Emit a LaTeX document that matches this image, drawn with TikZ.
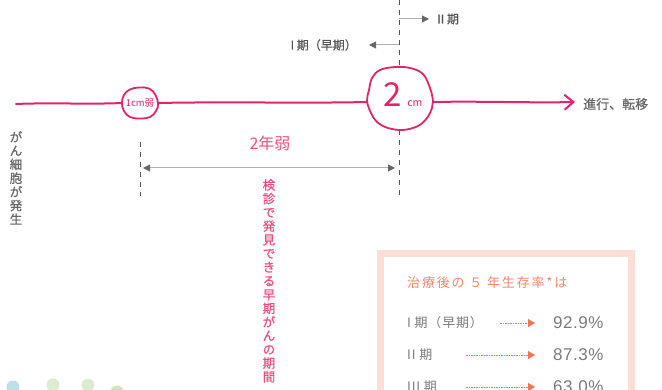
\documentclass[tikz,border=0pt]{standalone}
\usepackage{fontspec}
\setmainfont{Noto Sans CJK JP}
\newfontfamily\jpm{Noto Sans CJK JP}[FakeBold=0.7]
\newfontfamily\jpsp{Noto Sans CJK JP}[LetterSpace=14]
\newfontfamily\jprow{Noto Sans CJK JP}[LetterSpace=6]
\newfontfamily\numfont{Liberation Sans}[LetterSpace=3]
\usetikzlibrary{arrows.meta,shapes.geometric}
\definecolor{mpink}{HTML}{E2246C}
\definecolor{tpink}{HTML}{EA4E7C}
\definecolor{dgray}{HTML}{555555}
\definecolor{tgray}{HTML}{666666}
\definecolor{rgray}{HTML}{7A7A7A}
\definecolor{lgray}{HTML}{B0B0B0}
\definecolor{agray}{HTML}{666666}
\definecolor{boxpink}{HTML}{FBDFD6}
\definecolor{salmon}{HTML}{F0866C}
\definecolor{arrsalmon}{HTML}{F2744E}
\definecolor{dotblue}{HTML}{BFE0EA}
\definecolor{dotgreen}{HTML}{DCEDCF}
\definecolor{dotgreenb}{HTML}{CFE4BD}
\tikzset{
  mainline/.style={mpink, line width=2pt, line cap=round, line join=round},
  blobline/.style={mpink, line width=1.8pt, fill=white, line join=round},
  blobnode/.style={ellipse, inner sep=0pt, draw=none},
  dashline/.style={dgray, line width=1pt, dash pattern=on 5pt off 5pt},
  grayarrow/.style={lgray, line width=1pt, -{Triangle[length=7pt,width=7pt,color=agray]}},
  graydouble/.style={lgray, line width=1pt, {Triangle[length=7pt,width=7pt,color=agray]}-{Triangle[length=7pt,width=7pt,color=agray]}},
  toplabel/.style={dgray, inner sep=0pt, font=\jpm\fontsize{12}{12}\selectfont},
  vtext/.style={align=center, inner sep=0pt, anchor=north, font=\jpm\fontsize{12.5}{13.7}\selectfont},
  rowlabel/.style={rgray, anchor=west, inner sep=0pt, font=\jprow\fontsize{13}{14}\selectfont},
  rownum/.style={rgray, anchor=west, inner sep=0pt, font=\numfont\fontsize{17}{18}\selectfont},
  rowarrow/.style={arrsalmon, line width=0.8pt, dash pattern=on 1.5pt off 1pt, -{Triangle[length=7pt,width=8pt,color=arrsalmon,sep=0pt]}}
}
\begin{document}
\begin{tikzpicture}[x=1pt,y=-1pt]
\useasboundingbox (0,0) rectangle (662,390);

% survival box
\draw[boxpink, line width=7pt] (380.5,400) -- (380.5,253.5) -- (631.5,253.5) -- (631.5,400);

% decorative dots
\fill[dotblue] (13,387) circle (6.5pt);
\fill[dotgreen] (53,385) circle (6.5pt);
\fill[dotgreen] (88,385) circle (6.5pt);
\fill[dotgreenb] (117,392) circle (6.5pt);

% dashed verticals
\coordinate (vtop) at (399,0);
\coordinate (vbot) at (399,196);
\coordinate (ltop) at (140,142);
\coordinate (lbot) at (140,196);
\draw[dashline] (vtop) -- (vbot);
\draw[dashline] (ltop) -- (lbot);

% blob nodes (anchors)
\node[blobnode, minimum width=36pt, minimum height=30pt] (small) at (140,103) {};
\node[blobnode, minimum width=66pt, minimum height=64pt] (big) at (400,102) {};
\coordinate (lstart) at (16,104);
\coordinate (lend) at (575,102);

% main line
\draw[mainline] (lstart) .. controls (50,102.5) and (90,104.5) .. (small.west);
\draw[mainline] (small.east) .. controls (230,101.5) and (300,103.5) .. (big.west);
\draw[mainline, -{Straight Barb[length=9pt,width=15pt,line width=2pt]}] (big.east) .. controls (480,101) and (530,103) .. (lend);

% blob outlines
\draw[blobline] plot[smooth cycle, tension=0.7] coordinates {
  (158,104) (155.5,95) (149,88.5) (139,87.5) (130,89.5) (124,95)
  (122,103) (124,111) (130,117) (140,118.5) (150,117) (156,111)};
\draw[blobline] plot[smooth cycle, tension=0.6] coordinates {
  (433,101) (430,88) (423,74) (410,68) (395,67) (380,70) (372,78) (369,90)
  (367,101) (371,113) (377,122) (388,128) (403,130) (418,126) (427,118) (432,108)};

% blob texts
\node[mpink, inner sep=0pt, font=\fontsize{9.5}{10}\selectfont] (smalltxt) at (140,103) {1cm弱};
\node[mpink, inner sep=0pt, anchor=base] (bigtxt) at (403,107) {\fontsize{33}{33}\selectfont 2\,\fontsize{10.5}{10.5}\selectfont cm};

% right label
\node[tgray, anchor=west, inner sep=0pt, font=\jpm\fontsize{13}{14}\selectfont] (prog) at (583,104) {進行、転移};

% stage arrows at top
\node[toplabel, anchor=west] (st2) at (437,19) {II 期};
\node[toplabel, anchor=east] (st1) at (357,45) {I 期（早期）};
\coordinate (a2s) at (399,19);
\coordinate (a1s) at (399,45);
\draw[grayarrow] (a2s) -- ([xshift=-8pt]st2.west);
\draw[grayarrow] (a1s) -- ([xshift=12pt]st1.east);

% two years
\node[tpink, inner sep=0pt, font=\fontsize{16}{16}\selectfont] (twoyr) at (270,143) {2年弱};
\coordinate (dl) at (140,168);
\coordinate (dr) at (399,168);
\draw[graydouble, shorten <=3pt, shorten >=4pt] (dl) -- (dr);

% vertical texts
\node[vtext, tpink] (period) at (269,179) {検\\診\\で\\発\\見\\で\\き\\る\\早\\期\\が\\ん\\の\\期\\間};
\node[vtext, tgray] (origin) at (16,131) {が\\ん\\細\\胞\\が\\発\\生};

% box contents
\node[salmon, anchor=west, inner sep=0pt, font=\jpsp\fontsize{13}{14}\selectfont] (title) at (407,283) {治療後の ５ 年生存率*は};
\node[rowlabel] (r1) at (407,323) {I 期（早期）};
\node[rowlabel] (r2) at (407,355) {II 期};
\node[rowlabel] (r3) at (407,387) {III 期};
\node[rownum] (n1) at (553,323) {92.9\%};
\node[rownum] (n2) at (553,355) {87.3\%};
\node[rownum] (n3) at (553,387) {63.0\%};
\coordinate (r1a) at (500,323);
\coordinate (r2a) at (466,355);
\coordinate (r3a) at (466,387);
\draw[rowarrow] (r1a) -- ([xshift=-18pt]n1.west);
\draw[rowarrow] (r2a) -- ([xshift=-18pt]n2.west);
\draw[rowarrow] (r3a) -- ([xshift=-18pt]n3.west);
\end{tikzpicture}
\end{document}
